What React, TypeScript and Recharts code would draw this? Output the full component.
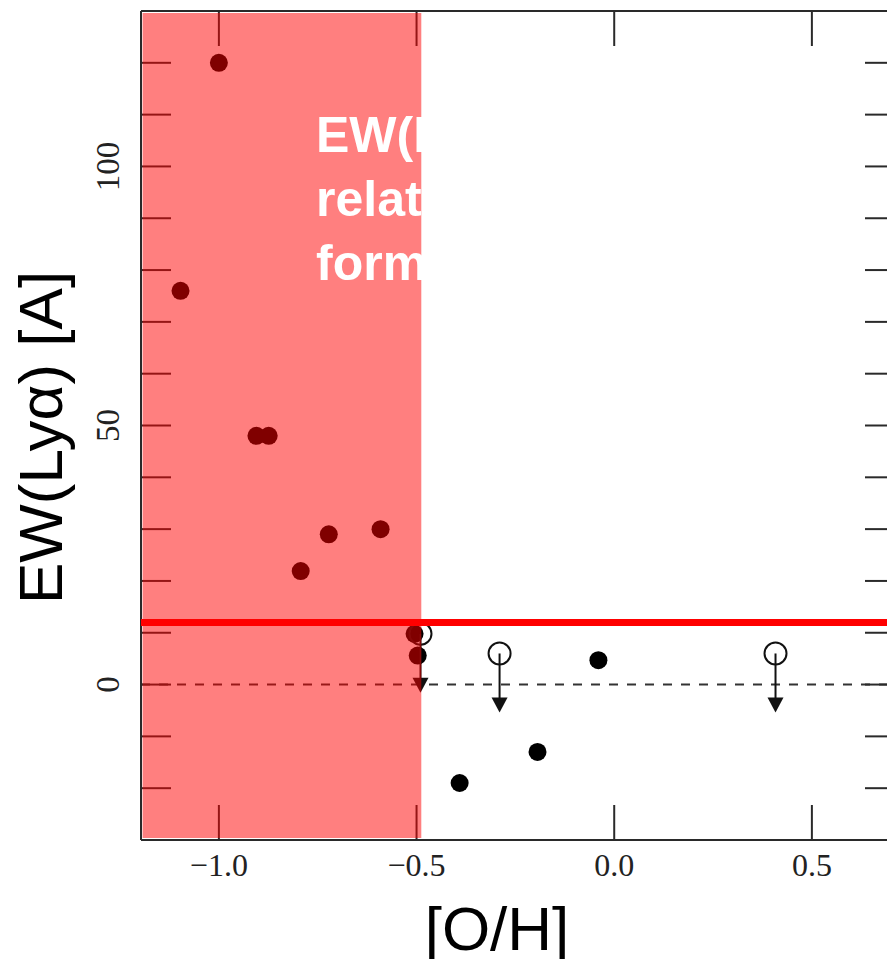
import React from 'react';
import {
  ComposedChart, Scatter, XAxis, YAxis, ReferenceArea, ReferenceLine,
} from 'recharts';

// detections (filled) and upper limits (open circle + arrow)
const detX = [-1.0, -1.097, -0.905, -0.874, -0.793, -0.722, -0.591, -0.505, -0.497, -0.391, -0.194, -0.04];
const detY = [120, 76, 48, 48, 21.9, 29, 30, 9.8, 5.6, -19, -13, 4.7];
const limX = [-0.49, -0.29, 0.408];
const limY = [9.8, 6.0, 6.0];

const xTicks = [-1.0, -0.5, 0.0, 0.5];
const yTicks = [-20, -10, 0, 10, 20, 30, 40, 50, 60, 70, 80, 90, 100, 110, 120];
const yLabelled = [0, 50, 100];

const shadeFrom = -1.193;
const shadeTo = -0.488;
const threshold = 12;

const detections = detX.map((x, i) => ({ x, y: detY[i] }));
const limits = limX.map((x, i) => ({ x, y: limY[i] }));

const FRAME = '#2a2a2a';
const SERIF = '"Liberation Serif", "DejaVu Serif", serif';
const SANS = '"Liberation Sans", Arial, sans-serif';

const fmtX = (v: number) => (v < 0 ? '\u2212' : '') + Math.abs(v).toFixed(1);

const NoLabel = () => <g />;

const YTick = (props: any) => {
  const { x, y, payload } = props;
  if (!yLabelled.includes(payload.value)) return <g />;
  return (
    <text
      x={x} y={y}
      transform={`rotate(-90, ${x}, ${y})`}
      textAnchor="middle"
      dominantBaseline="central"
      fontFamily={SERIF}
      fontSize={33}
      fill="#222"
    >
      {payload.value}
    </text>
  );
};

const LimitShape = (props: any) => {
  const { cx, cy } = props;
  return (
    <g>
      <circle cx={cx} cy={cy} r={11} fill="none" stroke="#111" strokeWidth={2} />
      <line x1={cx} y1={cy} x2={cx} y2={cy + 46} stroke="#111" strokeWidth={2} />
      <polygon points={`${cx - 8},${cy + 44} ${cx + 8},${cy + 44} ${cx},${cy + 59}`} fill="#111" />
    </g>
  );
};

const DotShape = (props: any) => {
  const { cx, cy } = props;
  return <circle cx={cx} cy={cy} r={9} fill="#000" />;
};

export default function App() {
  return (
    <div style={{ position: 'absolute', left: 0, top: 0, width: 887, height: 959, background: '#fff', overflow: 'hidden' }}>
      <ComposedChart width={888} height={959} margin={{ top: 10, right: 0, bottom: 0, left: 0 }}>
        <XAxis
          xAxisId="bottom"
          dataKey="x"
          type="number"
          domain={[-1.197, 0.69]}
          ticks={xTicks}
          allowDataOverflow
          height={119}
          tickSize={-35}
          tickMargin={48}
          tickFormatter={fmtX}
          axisLine={{ stroke: FRAME, strokeWidth: 2 }}
          tickLine={{ stroke: FRAME, strokeWidth: 2 }}
          tick={{ fontFamily: SERIF, fontSize: 32, fill: '#222' }}
          label={({ viewBox }: any) => (
            <text
              x={viewBox.x + viewBox.width / 2 - 17}
              y={viewBox.y + 110}
              textAnchor="middle"
              fontFamily={SANS}
              fontSize={62}
              fill="#000"
            >
              [O/H]
            </text>
          )}
        />
        <XAxis
          xAxisId="top"
          orientation="top"
          dataKey="x"
          type="number"
          domain={[-1.197, 0.69]}
          ticks={xTicks}
          allowDataOverflow
          height={1}
          tickSize={-35}
          tick={<NoLabel />}
          axisLine={{ stroke: FRAME, strokeWidth: 2 }}
          tickLine={{ stroke: FRAME, strokeWidth: 2 }}
        />
        <YAxis
          yAxisId="left"
          dataKey="y"
          type="number"
          domain={[-30, 130]}
          ticks={yTicks}
          allowDataOverflow
          width={141}
          tickSize={-30}
          tickMargin={63}
          tick={<YTick />}
          axisLine={{ stroke: FRAME, strokeWidth: 2 }}
          tickLine={{ stroke: FRAME, strokeWidth: 2 }}
          label={({ viewBox }: any) => {
            const cx = 40;
            const cy = viewBox.y + viewBox.height / 2 + 12;
            return (
              <text
                x={cx} y={cy}
                transform={`rotate(-90, ${cx}, ${cy})`}
                textAnchor="middle"
                dominantBaseline="central"
                fontFamily={SANS}
                fontSize={62}
                fill="#000"
              >
                EW(Lyα) [A]
              </text>
            );
          }}
        />
        <YAxis
          yAxisId="right"
          orientation="right"
          type="number"
          domain={[-30, 130]}
          ticks={yTicks}
          allowDataOverflow
          width={1}
          tickSize={-22}
          tick={<NoLabel />}
          axisLine={false}
          tickLine={{ stroke: FRAME, strokeWidth: 2 }}
        />

        <ReferenceLine
          xAxisId="bottom" yAxisId="left"
          y={0}
          stroke="#333"
          strokeWidth={2}
          strokeDasharray="9 9"
        />

        <Scatter
          xAxisId="bottom" yAxisId="left"
          data={detections}
          shape={<DotShape />}
          isAnimationActive={false}
        />
        <Scatter
          xAxisId="bottom" yAxisId="left"
          data={limits}
          shape={<LimitShape />}
          isAnimationActive={false}
        />

        <ReferenceArea
          xAxisId="bottom" yAxisId="left"
          x1={shadeFrom} x2={shadeTo}
          y1={-29.6} y2={129.6}
          fill="#ff0000"
          fillOpacity={0.5}
          stroke="none"
          {...({ zIndex: 1500 } as any)}
        />
        <ReferenceLine
          xAxisId="bottom" yAxisId="left"
          y={threshold}
          stroke="#ff0000"
          strokeWidth={7}
          {...({ zIndex: 1600 } as any)}
        />
      </ComposedChart>

      <div
        style={{
          position: 'absolute', left: 316, top: 103,
          fontFamily: SANS, fontWeight: 'bold', fontSize: 50, lineHeight: '64px',
          color: '#fff', whiteSpace: 'nowrap', pointerEvents: 'none',
        }}
      >
        EW(Lyα) is<br />related to star<br />formation
      </div>
    </div>
  );
}
